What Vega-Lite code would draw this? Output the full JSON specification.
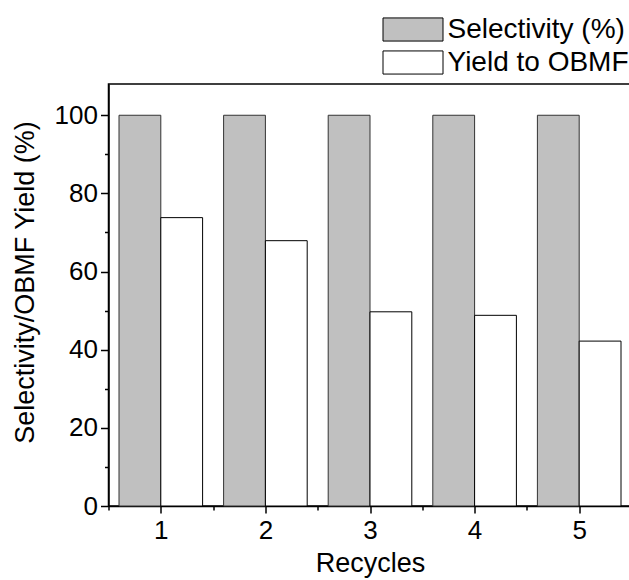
{
  "$schema": "https://vega.github.io/schema/vega-lite/v6.json",
  "width": 523,
  "height": 422,
  "autosize": "none",
  "padding": {"left": 108.5, "top": 84, "right": 0, "bottom": 74},
  "background": "white",
  "config": {
    "font": "Liberation Sans",
    "view": {"stroke": "black", "strokeWidth": 1.5},
    "axis": {"grid": false, "domainColor": "black", "domainWidth": 1.5, "tickColor": "black", "tickWidth": 1.5, "labelColor": "black", "titleColor": "black", "labelFontSize": 26, "titleFontSize": 27, "titleFontWeight": "normal", "labelFont": "Liberation Sans", "titleFont": "Liberation Sans"}
  },
  "data": {"values": [
    {"recycle": 1, "series": "Selectivity (%)", "value": 100},
    {"recycle": 2, "series": "Selectivity (%)", "value": 100},
    {"recycle": 3, "series": "Selectivity (%)", "value": 100},
    {"recycle": 4, "series": "Selectivity (%)", "value": 100},
    {"recycle": 5, "series": "Selectivity (%)", "value": 100},
    {"recycle": 1, "series": "Yield to OBMF", "value": 73.8},
    {"recycle": 2, "series": "Yield to OBMF", "value": 67.9},
    {"recycle": 3, "series": "Yield to OBMF", "value": 49.7},
    {"recycle": 4, "series": "Yield to OBMF", "value": 48.8},
    {"recycle": 5, "series": "Yield to OBMF", "value": 42.2}
  ]},
  "encoding": {
    "x": {"field": "recycle", "type": "quantitative", "scale": {"domain": [0.5, 5.5], "nice": false, "zero": false, "padding": 0},
      "axis": {"title": "Recycles", "values": [0.5, 1, 1.5, 2, 2.5, 3, 3.5, 4, 4.5, 5, 5.5], "labelExpr": "datum.value % 1 === 0 ? format(datum.value, 'd') : ''", "labelOverlap": false, "tickSize": {"condition": {"test": "datum.value % 1 === 0", "value": 7}, "value": 4}, "labelPadding": 4, "titlePadding": 7, "labelFlush": false}},
    "y": {"field": "value", "type": "quantitative", "scale": {"domain": [0, 108], "nice": false, "padding": 0},
      "axis": {"title": "Selectivity/OBMF Yield (%)", "values": [0, 10, 20, 30, 40, 50, 60, 70, 80, 90, 100], "labelExpr": "datum.value % 20 === 0 ? datum.label : ''", "labelOverlap": false, "tickSize": {"condition": {"test": "datum.value % 20 === 0", "value": 8}, "value": 4}, "labelPadding": 3, "titleFontSize": 27, "titleX": -69, "titleY": 198, "titleBaseline": "bottom", "titleAlign": "center", "titleAngle": -90, "labelFlush": false}},
    "color": {"field": "series", "type": "nominal", "scale": {"domain": ["Selectivity (%)", "Yield to OBMF"], "range": ["#c0c0c0", "#ffffff"]},
      "legend": {"title": null, "orient": "none", "legendX": 289, "legendY": -70, "padding": 0, "symbolType": "M-2,-0.77H2V0.77H-2Z", "symbolSize": 900, "symbolStrokeColor": "black", "symbolStrokeWidth": 1, "labelFontSize": 28, "labelLimit": 0, "labelFont": "Liberation Sans", "labelColor": "black", "labelOffset": 19, "rowPadding": 3, "symbolOpacity": 1}}
  },
  "layer": [
    {"transform": [{"filter": "datum.series === 'Selectivity (%)'"}],
     "mark": {"type": "bar", "width": 41.8, "xOffset": -20.9, "stroke": "#333333", "strokeWidth": 1, "opacity": 1}},
    {"transform": [{"filter": "datum.series === 'Yield to OBMF'"}],
     "mark": {"type": "bar", "width": 41.8, "xOffset": 20.9, "stroke": "black", "strokeWidth": 1, "opacity": 1}}
  ]
}
